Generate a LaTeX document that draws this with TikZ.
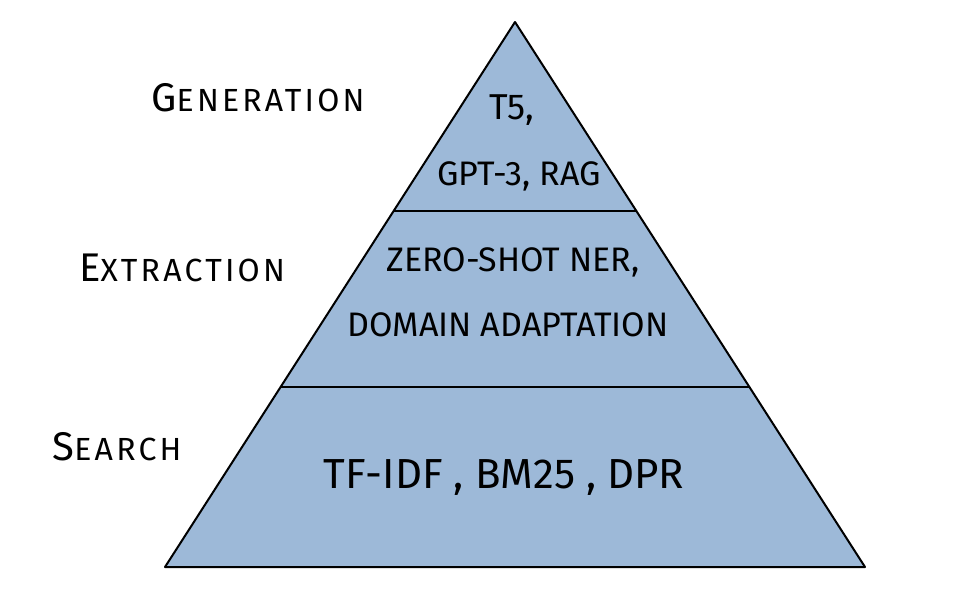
\documentclass[tikz,border=0pt]{standalone}
\usepackage{fontspec}
\setmainfont{Fira Sans}
\definecolor{pyrblue}{RGB}{157,185,216}
\newcommand\hcap[2]{{\addfontfeature{LetterSpace=10}\fontsize{20}{20}\selectfont #1\fontsize{16}{16}\selectfont #2}}
\begin{document}
\begin{tikzpicture}[x=0.5pt,y=-0.5pt,
  tier/.style={fill=pyrblue,draw=black,line width=1pt,line join=round},
  divider/.style={draw=black,line width=1.2pt},
  inner/.style={font=\fontsize{17}{20}\selectfont,inner sep=0pt,anchor=center},
  side/.style={inner sep=0pt,anchor=center}]
\useasboundingbox (0,0) rectangle (963,605);
\coordinate (apex) at (515,22);
\coordinate (bl) at (165,567);
\coordinate (br) at (865,567);
\coordinate (d1l) at (393.6,211);
\coordinate (d1r) at (636.4,211);
\coordinate (d2l) at (280.6,387);
\coordinate (d2r) at (749.4,387);
\path[tier] (apex) -- (br) -- (bl) -- cycle;
\draw[divider] (d1l) -- (d1r);
\draw[divider] (d2l) -- (d2r);
\node[inner,font=\fontsize{18}{20}\selectfont] (tfive) at (512,110) {T5,};
\node[inner] (gpt) at (519,176) {GPT-3, RAG};
\node[inner] (zero) at (513,262) {ZERO-SHOT NER,};
\node[inner] (domain) at (508,325) {DOMAIN ADAPTATION};
\node[inner,font=\fontsize{21}{24}\selectfont] (tfidf) at (504,478) {TF-IDF , BM25 , DPR};
\node[side] (gen) at (258,98) {\hcap{G}{ENERATION}};
\node[side] (ext) at (182,268) {\hcap{E}{XTRACTION}};
\node[side] (sea) at (117,447) {\hcap{S}{EARCH}};
\end{tikzpicture}
\end{document}
